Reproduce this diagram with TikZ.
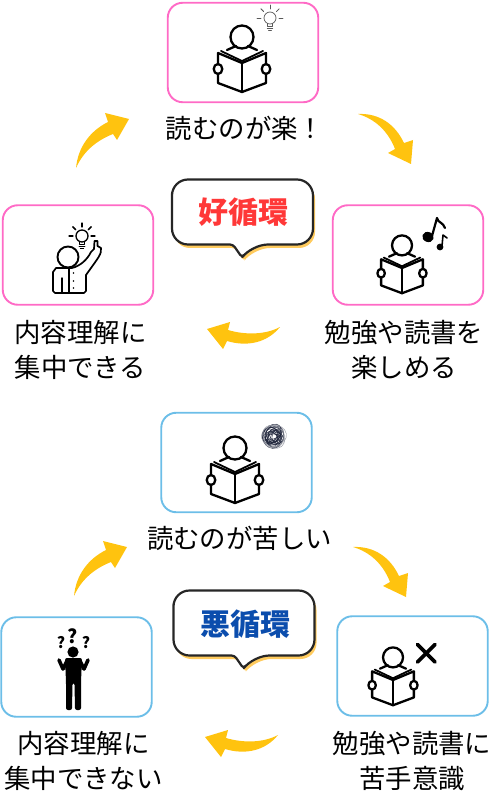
\documentclass[tikz,border=0pt]{standalone}
\usepackage{fontspec}
\newfontfamily\jpfont{Noto Sans CJK JP}
\definecolor{pinkline}{HTML}{FF6AC6}
\definecolor{blueline}{HTML}{6CBEE8}
\definecolor{arrowgold}{HTML}{FFC30F}
\definecolor{shadowgold}{HTML}{FFCB5E}
\definecolor{goodred}{HTML}{FF3838}
\definecolor{badblue}{HTML}{0B4DAD}
\definecolor{inkline}{HTML}{262626}
\definecolor{scribbleink}{HTML}{20263C}
\tikzset{
  card/.style={draw,line width=1.9pt,rounded corners=15pt,minimum width=150.5pt,minimum height=99.5pt,inner sep=0pt,fill=white},
  caption/.style={align=center,inner sep=0pt,font=\jpfont\fontsize{26.4}{35}\selectfont},
  bubbletext/.style={inner sep=0pt,font=\jpfont\bfseries\fontsize{30}{30}\selectfont},
  reader/.pic={
    \draw[line width=2.3pt] (0,-26) circle (11.5);
    \draw[line width=2.3pt] (0,0) -- (-24,-10) -- (-24,20) -- (0,29) -- (24,20) -- (24,-10) -- cycle;
    \draw[line width=2.3pt] (0,0) -- (0,29);
    \draw[line width=1.8pt] (-21,-12) -- (0,-2) -- (21,-12);
    \draw[line width=2.3pt] (-15,-13) -- (-6,-17);
    \draw[line width=2.3pt] (15,-13) -- (6,-17);
    \draw[line width=2.3pt,fill=white] (-24,6) ellipse (4.3 and 5);
    \draw[line width=2.3pt,fill=white] (24,6) ellipse (4.3 and 5);
  },
  bulb/.pic={
    \draw (0,0) circle (6);
    \draw (-2.8,5.5) -- (-2.8,8.5) -- (2.8,8.5) -- (2.8,5.5);
    \draw (-2.8,10.5) -- (2.8,10.5);
    \draw (-1.5,12.5) -- (1.5,12.5);
    \foreach \a in {0,45,90,135,180} {
      \draw (\a+180:9) -- (\a+180:13);
    }
    \draw (-45:9) -- (-45:13);
    \draw (225:9) -- (225:13);
  },
  arrowup/.pic={
    \fill[arrowgold] (0,0) .. controls (2,-21) and (14,-37) .. (32,-46) -- (29,-55) -- (53,-49) -- (41,-28) -- (37,-34) .. controls (22,-28) and (8,-18) .. (0,0);
  },
  arrowdown/.pic={
    \fill[arrowgold] (0,0) .. controls (21,-1) and (37,10) .. (46,29) -- (55,26) -- (53,50) -- (30,39) -- (37,35) .. controls (30,17) and (17,5) .. (0,0);
  },
  arrowback/.pic={
    \fill[arrowgold] (0,0) .. controls (-15,8) and (-35,8) .. (-52,3) -- (-50,-5) -- (-73,2) -- (-57,22) -- (-53,14) .. controls (-33,20) and (-13,16) .. (0,0);
  },
  bubble/.pic={
    \fill[shadowgold,rounded corners=16pt,shift={(2,3.5)}] (0,30) -- (0,0) -- (141,0) -- (141,65) -- (80,65) [rounded corners=3pt] -- (70,78) -- (61,65) [rounded corners=16pt] -- (0,65) -- cycle;
    \draw[inkline,fill=white,line width=2.2pt,rounded corners=16pt] (0,30) -- (0,0) -- (141,0) -- (141,65) -- (80,65) [rounded corners=3pt] -- (70,78) -- (61,65) [rounded corners=16pt] -- (0,65) -- cycle;
  }
}

\begin{document}
\begin{tikzpicture}[line cap=round,line join=round,x=1pt,y=-1pt]
  \useasboundingbox (0,0) rectangle (490,791);
  % good cycle
  \node[card,draw=pinkline] (goodtop) at (243,52.5) {};
  \node[card,draw=pinkline] (goodleft) at (78,255) {};
  \node[card,draw=pinkline] (goodright) at (408,255) {};
  \node[caption] (goodtoptext) at (245,128) {読むのが楽！};
  \node[caption] (goodlefttext) at (80.5,349.5) {内容理解に\\集中できる};
  \node[caption] (goodrighttext) at (404,349.5) {勉強や読書を\\楽しめる};
  \pic at (242,63) {reader};
  \pic[gray!70!black,line width=0.7pt] at (270,18) {bulb};
  \pic[scale=0.87] at (402,268) {reader};
  % notes
  \fill[rotate around={-20:(428,237)}] (428,237) ellipse (5.8 and 5);
  \draw[line width=2.2pt] (432,236) -- (437,218) .. controls (438,223) and (443,222) .. (445,228);
  \fill (440,247) circle (3.4);
  \draw[line width=1.6pt] (442,246) -- (443,235) .. controls (444,237) and (446,236) .. (447,238);
  % person with idea
  \draw[line width=1.7pt,fill=white] (72,268) .. controls (80,266) and (87,260) .. (91,252) -- (94,249) -- (94.5,241) -- (97.5,241) -- (97.5,246) -- (101,248) .. controls (102,254) and (98,258) .. (86,275) -- (86,291) -- (84,293) -- (55,293) -- (53,291) -- (53,272) -- (56,268) -- cycle;
  \draw[line width=1.4pt] (62,278) -- (62,293);
  \draw[line width=1.4pt] (69,268) -- (69,293);
  \foreach \dotY in {273,281,288} {
    \fill (73.5,\dotY) circle (0.9);
  }
  \draw[line width=1.9pt,fill=white] (68,257) circle (10.5);
  \pic[line width=1.3pt] at (82,236) {bulb};
  % bad cycle
  \node[card,draw=blueline] (badtop) at (236.5,462.5) {};
  \node[card,draw=blueline] (badleft) at (76.5,667) {};
  \node[card,draw=blueline] (badright) at (412.5,666) {};
  \node[caption] (badtoptext) at (239.5,538) {読むのが苦しい};
  \node[caption] (badlefttext) at (83.5,760.5) {内容理解に\\集中できない};
  \node[caption] (badrighttext) at (412,760.5) {勉強や読書に\\苦手意識};
  \pic at (235,474) {reader};
  \pic[scale=0.87] at (393,680) {reader};
  % scribble
  \foreach \a/\sx/\sy/\rx/\ry in {0/0/0/11/9,25/-2/1/9/11,50/1/-2/11/8,75/-1/2/10/7,100/2/1/8/10,125/-3/-1/9/8,150/1/2/7/10,175/-2/-2/9/6,200/2/-1/6/9,225/-1/1/9/7,250/0/-3/8/5,275/3/0/5/8,300/-3/2/7/8,325/0/1/4/7,350/1/-1/6/6,15/-1/-1/9/4,40/0/2/3/8,65/2/2/6/3,90/-2/0/5/5,115/1/0/8/6} {
    \draw[scribbleink,line width=0.4pt,rotate around={\a:(273,436)}] (273+\sx,436+\sy) ellipse [x radius=\rx,y radius=\ry];
  }
  \foreach \a/\sx/\sy/\rx/\ry in {10/1/0/12.5/10.5,70/0/1/12/10,130/-1/0/12.5/10} {
    \draw[scribbleink!50,line width=0.4pt,rotate around={\a:(273,436)}] (273+\sx,436+\sy) ellipse [x radius=\rx,y radius=\ry];
  }
  % cross
  \draw[line width=3.8pt] (417.5,644.5) -- (435,662);
  \draw[line width=3.8pt] (435,644.5) -- (417.5,662);
  % person with questions
  \fill (73,652) circle (5.6);
  \fill[rounded corners=2pt] (65,658) -- (82,658) -- (81,682) -- (81,710) -- (75,710) -- (74.5,683) -- (72.5,683) -- (72,710) -- (66,710) -- (66,682) -- cycle;
  \draw[line width=3.6pt] (59,660) -- (63,669) -- (67,661);
  \draw[line width=3.6pt] (88,660) -- (84,669) -- (80,661);
  \node[font=\jpfont\bfseries\fontsize{19}{19}\selectfont,inner sep=0pt] (quesmid) at (73,636.5) {?};
  \node[font=\jpfont\bfseries\fontsize{15.5}{15.5}\selectfont,inner sep=0pt] (quesleft) at (61,643) {?};
  \node[font=\jpfont\bfseries\fontsize{15.5}{15.5}\selectfont,inner sep=0pt] (quesright) at (86,643) {?};
  % arrows
  \pic at (76,168) {arrowup};
  \pic at (358,114) {arrowdown};
  \pic at (280,327) {arrowback};
  \pic at (74,596) {arrowup};
  \pic at (353,547) {arrowdown};
  \pic at (278,735) {arrowback};
  % bubbles
  \pic at (172,179.5) {bubble};
  \node[bubbletext,text=goodred] (goodlabel) at (243,212) {好循環};
  \pic at (173.5,590.5) {bubble};
  \node[bubbletext,text=badblue] (badlabel) at (245,624) {悪循環};
\end{tikzpicture}
\end{document}
